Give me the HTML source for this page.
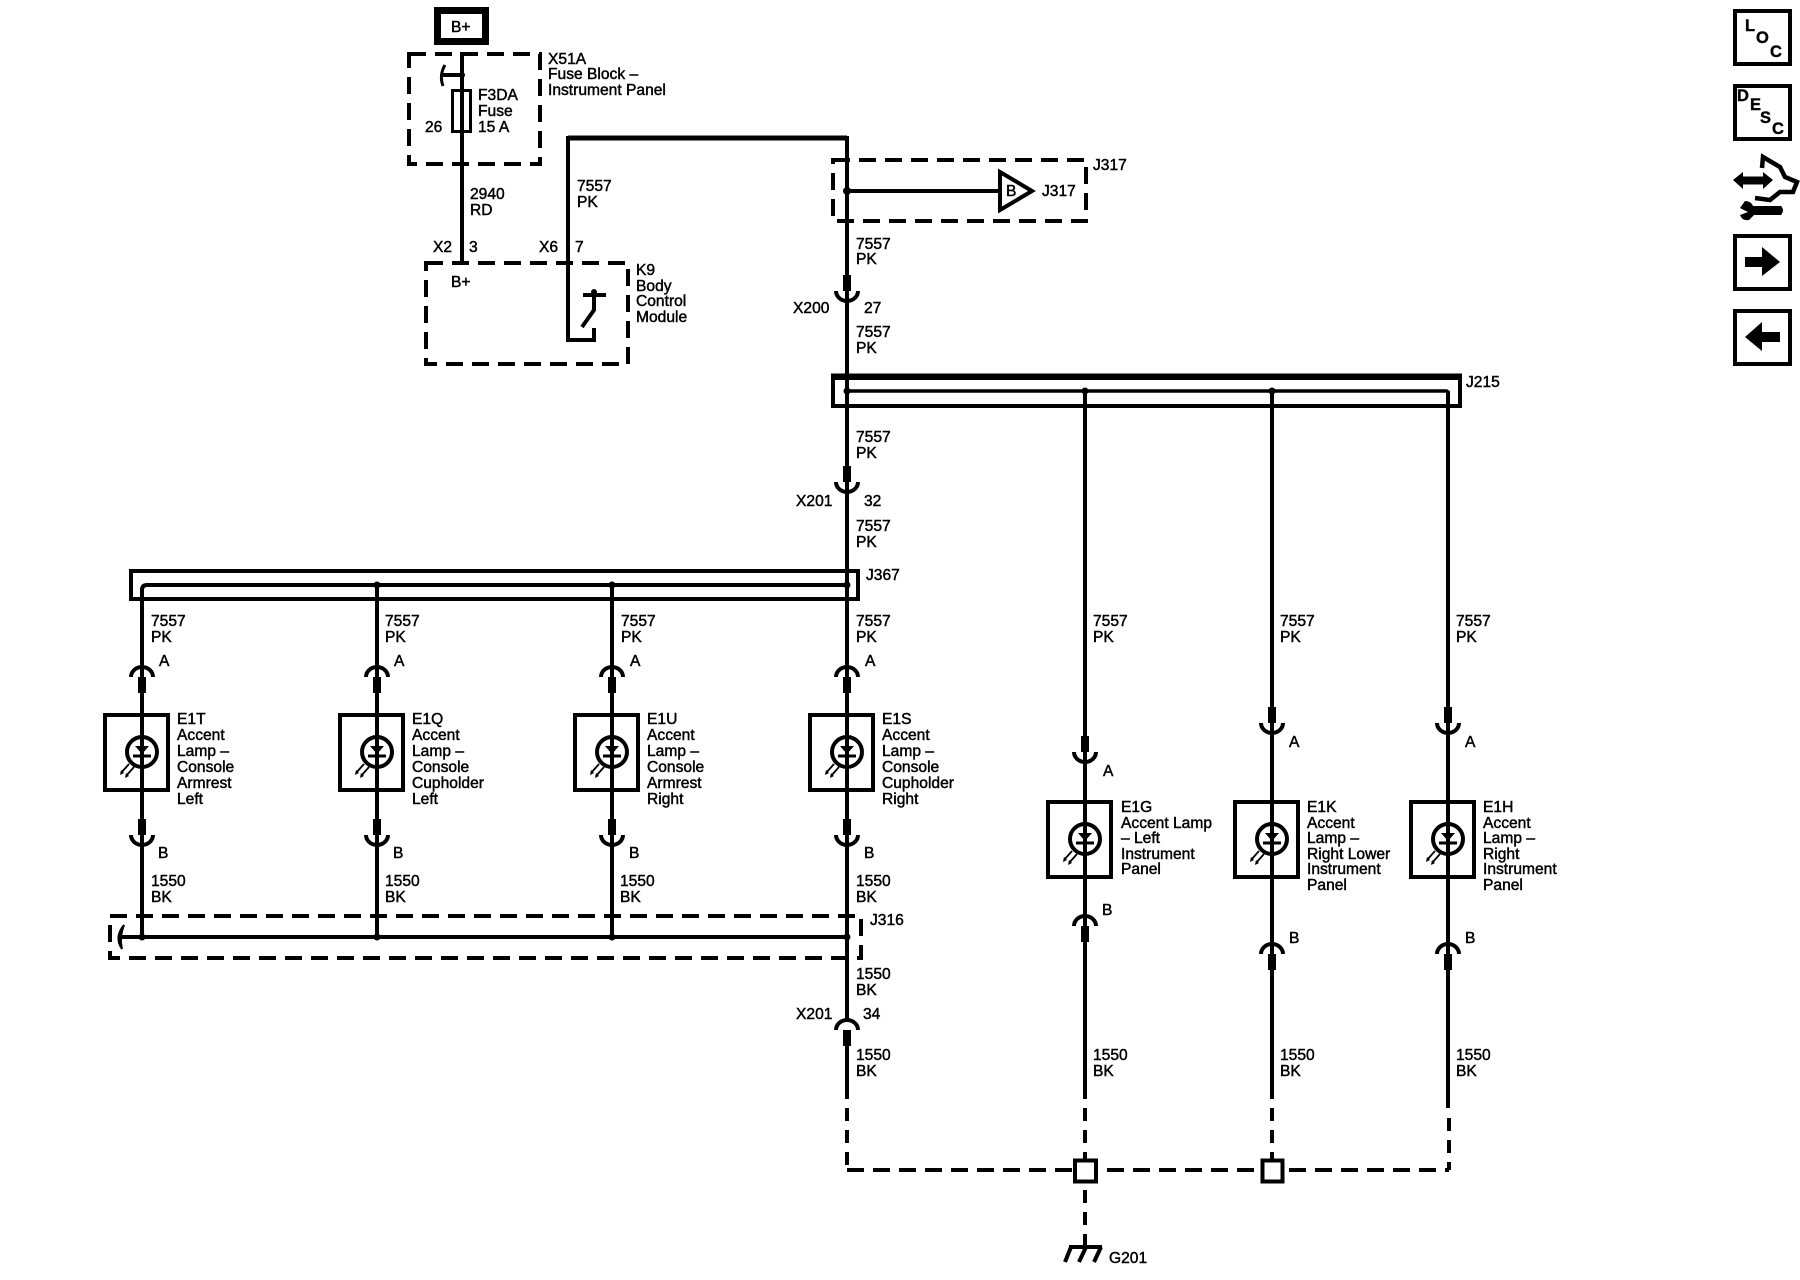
<!DOCTYPE html>
<html><head><meta charset="utf-8"><style>
html,body{margin:0;padding:0;background:#fff}
svg{display:block}
text{font-family:"Liberation Sans",sans-serif;font-size:15.6px;fill:#000;stroke:#000;stroke-width:.45px}
.w{fill:none;stroke:#000;stroke-width:4}
.d{fill:none;stroke:#000;stroke-width:4;stroke-dasharray:17 9}
.v{fill:none;stroke:#000;stroke-width:4;stroke-dasharray:13 9}
.b{font-weight:bold;font-size:16.5px;stroke-width:.4px}
</style></head><body>
<svg width="1800" height="1280" viewBox="0 0 1800 1280" xmlns="http://www.w3.org/2000/svg">
<defs>
<g id="cup"><rect x="-4" y="-16" width="8" height="16"/><path class="w" d="M-11 0A11 10 0 0 0 11 0"/></g>
<g id="cap"><rect x="-4" y="0" width="8" height="16"/><path class="w" d="M-11 0A11 10 0 0 1 11 0"/></g>
<g id="lamp">
<rect class="w" x="-37" y="-37" width="63" height="75"/>
<circle class="w" cx="0" cy="0" r="15"/>
<path d="M-7-6H7L0 2Z"/>
<path class="w" style="stroke-width:3" d="M-9 4H9"/>
<path class="w" style="stroke-width:1.800" d="M-13 12L-21 21M-8 15L-16 24"/>
<path d="M-22 23l1-5 3 3ZM-17 26l1-5 3 3Z"/>
</g>
</defs>

<!-- B+ and fuse block -->
<rect x="437.500" y="10.500" width="48" height="31" fill="none" stroke="#000" stroke-width="7"/>
<text x="451" y="32">B+</text>
<rect class="d" x="409" y="54" width="131" height="110"/>
<path class="w" d="M462 52V262"/>
<path class="w" d="M443 75H462"/>
<circle cx="462" cy="75" r="3"/>
<path class="w" style="stroke-width:3" d="M445 65Q439 75 443 86"/>
<rect x="452.500" y="90.500" width="18" height="41" fill="#fff" stroke="#000" stroke-width="3"/>
<path class="w" d="M462 90V131"/>
<text x="548" y="64">X51A</text>
<text x="548" y="79">Fuse Block –</text>
<text x="548" y="95">Instrument Panel</text>
<text x="478" y="100">F3DA</text>
<text x="478" y="116">Fuse</text>
<text x="478" y="132">15 A</text>
<text x="425" y="132">26</text>
<text x="470" y="199">2940</text>
<text x="470" y="215">RD</text>
<text x="433" y="252">X2</text>
<text x="469" y="252">3</text>
<text x="539" y="252">X6</text>
<text x="575" y="252">7</text>

<!-- K9 -->
<rect class="d" x="426" y="263" width="202" height="101"/>
<text x="451" y="287">B+</text>
<text x="636" y="275">K9</text>
<text x="636" y="291">Body</text>
<text x="636" y="306">Control</text>
<text x="636" y="322">Module</text>
<path class="w" style="stroke-width:5" d="M847 138H568"/>
<path class="w" d="M568 136V340H594V328"/>
<path class="w" d="M583 295H606M594 292V310L582 327"/>
<circle cx="594" cy="292" r="3"/>
<text x="577" y="191">7557</text>
<text x="577" y="207">PK</text>

<!-- main wire -->
<path class="w" d="M847 136V276M847 290V468M847 482V1020"/>
<rect class="d" x="833" y="160" width="253" height="61"/>
<circle cx="847" cy="191" r="4"/>
<path class="w" d="M847 191H998"/>
<path d="M1000 172L1032 191L1000 210Z" fill="#fff" stroke="#000" stroke-width="4"/>
<text x="1006" y="196">B</text>
<text x="1042" y="196">J317</text>
<text x="1093" y="170">J317</text>
<text x="856" y="249">7557</text>
<text x="856" y="264">PK</text>
<use href="#cup" x="847" y="291"/>
<text x="793" y="313">X200</text>
<text x="864" y="313">27</text>
<text x="856" y="337">7557</text>
<text x="856" y="353">PK</text>

<!-- J215 -->
<rect class="w" x="833" y="378" width="627" height="28" style="stroke-width:4"/>
<path class="w" d="M831 376H1462" style="stroke-width:5"/>
<path class="w" style="stroke-width:3.500" d="M847 391H1446Q1448 391 1448 393"/>
<circle cx="847" cy="391" r="3.500"/><circle cx="1085" cy="391" r="3.500"/><circle cx="1272" cy="391" r="3.500"/>
<text x="1466" y="387">J215</text>
<text x="856" y="442">7557</text>
<text x="856" y="458">PK</text>
<use href="#cup" x="847" y="482"/>
<text x="796" y="506">X201</text>
<text x="864" y="506">32</text>
<text x="856" y="531">7557</text>
<text x="856" y="547">PK</text>

<!-- J367 -->
<rect class="w" x="131" y="571" width="727" height="28"/>
<path class="w" d="M142 693V590Q142 585 147 585H847"/>
<path class="w" d="M377 585V677M612 585V677"/>
<circle cx="377" cy="585" r="3.500"/><circle cx="612" cy="585" r="3.500"/><circle cx="847" cy="585" r="3.500"/>
<text x="866" y="580">J367</text>

<!-- left columns -->
<use href="#cap" x="142" y="677"/><use href="#cap" x="377" y="677"/><use href="#cap" x="612" y="677"/><use href="#cap" x="847" y="677"/>
<use href="#lamp" x="142" y="752"/><use href="#lamp" x="377" y="752"/><use href="#lamp" x="612" y="752"/><use href="#lamp" x="847" y="752"/>
<path class="w" d="M142 692V821M377 692V821M612 692V821M847 692V821"/>
<path class="w" d="M142 835V937M377 835V937M612 835V937"/>
<use href="#cup" x="142" y="835"/><use href="#cup" x="377" y="835"/><use href="#cup" x="612" y="835"/><use href="#cup" x="847" y="835"/>

<text x="151" y="626">7557</text><text x="151" y="642">PK</text>
<text x="385" y="626">7557</text><text x="385" y="642">PK</text>
<text x="621" y="626">7557</text><text x="621" y="642">PK</text>
<text x="856" y="626">7557</text><text x="856" y="642">PK</text>
<text x="159" y="666">A</text><text x="394" y="666">A</text><text x="630" y="666">A</text><text x="865" y="666">A</text>
<text x="158" y="858">B</text><text x="393" y="858">B</text><text x="629" y="858">B</text><text x="864" y="858">B</text>
<text x="151" y="886">1550</text><text x="151" y="902">BK</text>
<text x="385" y="886">1550</text><text x="385" y="902">BK</text>
<text x="620" y="886">1550</text><text x="620" y="902">BK</text>
<text x="856" y="886">1550</text><text x="856" y="902">BK</text>

<text x="177" y="724">E1T</text><text x="177" y="740">Accent</text><text x="177" y="756">Lamp –</text><text x="177" y="772">Console</text><text x="177" y="788">Armrest</text><text x="177" y="804">Left</text>
<text x="412" y="724">E1Q</text><text x="412" y="740">Accent</text><text x="412" y="756">Lamp –</text><text x="412" y="772">Console</text><text x="412" y="788">Cupholder</text><text x="412" y="804">Left</text>
<text x="647" y="724">E1U</text><text x="647" y="740">Accent</text><text x="647" y="756">Lamp –</text><text x="647" y="772">Console</text><text x="647" y="788">Armrest</text><text x="647" y="804">Right</text>
<text x="882" y="724">E1S</text><text x="882" y="740">Accent</text><text x="882" y="756">Lamp –</text><text x="882" y="772">Console</text><text x="882" y="788">Cupholder</text><text x="882" y="804">Right</text>

<!-- J316 -->
<rect class="d" x="110" y="916" width="751" height="42"/>
<path class="w" d="M122 937H847"/>
<path d="M124 925Q114 937 122 949Q119 937 124 925Z" stroke="#000" stroke-width="2"/>
<circle cx="142" cy="937" r="3.500"/><circle cx="377" cy="937" r="3.500"/><circle cx="612" cy="937" r="3.500"/><circle cx="847" cy="937" r="3.500"/>
<text x="870" y="925">J316</text>
<text x="856" y="979">1550</text><text x="856" y="995">BK</text>
<text x="796" y="1019">X201</text><text x="863" y="1019">34</text>
<use href="#cap" x="847" y="1030"/>
<path class="w" d="M847 1044V1099"/>
<text x="856" y="1060">1550</text><text x="856" y="1076">BK</text>

<!-- right columns -->
<path class="w" d="M1085 391V738M1085 752V926M1085 941V1099"/>
<path class="w" d="M1272 391V709M1272 723V954M1272 969V1099"/>
<path class="w" d="M1448 391V709M1448 723V954M1448 969V1108"/>
<use href="#cup" x="1085" y="752"/><use href="#cup" x="1272" y="723"/><use href="#cup" x="1448" y="723"/>
<use href="#lamp" x="1085" y="839"/><use href="#lamp" x="1272" y="839"/><use href="#lamp" x="1448" y="839"/>
<use href="#cap" x="1085" y="926"/><use href="#cap" x="1272" y="954"/><use href="#cap" x="1448" y="954"/>
<text x="1093" y="626">7557</text><text x="1093" y="642">PK</text>
<text x="1280" y="626">7557</text><text x="1280" y="642">PK</text>
<text x="1456" y="626">7557</text><text x="1456" y="642">PK</text>
<text x="1103" y="776">A</text><text x="1289" y="747">A</text><text x="1465" y="747">A</text>
<text x="1102" y="915">B</text><text x="1289" y="943">B</text><text x="1465" y="943">B</text>
<text x="1121" y="812">E1G</text><text x="1121" y="828">Accent Lamp</text><text x="1121" y="843">– Left</text><text x="1121" y="859">Instrument</text><text x="1121" y="874">Panel</text>
<text x="1307" y="812">E1K</text><text x="1307" y="828">Accent</text><text x="1307" y="843">Lamp –</text><text x="1307" y="859">Right Lower</text><text x="1307" y="874">Instrument</text><text x="1307" y="890">Panel</text>
<text x="1483" y="812">E1H</text><text x="1483" y="828">Accent</text><text x="1483" y="843">Lamp –</text><text x="1483" y="859">Right</text><text x="1483" y="874">Instrument</text><text x="1483" y="890">Panel</text>
<text x="1093" y="1060">1550</text><text x="1093" y="1076">BK</text>
<text x="1280" y="1060">1550</text><text x="1280" y="1076">BK</text>
<text x="1456" y="1060">1550</text><text x="1456" y="1076">BK</text>

<!-- ground bus -->
<path class="v" d="M847 1108V1170M1085 1108V1160M1272 1108V1160M1449 1118V1170"/>
<path class="d" d="M847 1170H1449"/>
<rect x="1075" y="1160.500" width="21" height="21" fill="#fff" stroke="#000" stroke-width="4"/>
<rect x="1262.500" y="1160.500" width="20" height="21" fill="#fff" stroke="#000" stroke-width="4"/>
<path class="v" d="M1085 1190V1247"/>
<path class="w" d="M1069 1247H1102M1071 1247L1065 1262M1086 1247L1079 1262M1101 1247L1094 1262"/>
<text x="1109" y="1263">G201</text>

<!-- sidebar -->
<rect class="w" x="1735" y="11" width="55" height="53"/>
<text class="b" x="1745" y="31">L</text><text class="b" x="1756" y="43">O</text><text class="b" x="1770" y="57">C</text>
<rect class="w" x="1735" y="86" width="55" height="53"/>
<text class="b" x="1737" y="101">D</text><text class="b" x="1750" y="110">E</text><text class="b" x="1760" y="123">S</text><text class="b" x="1772" y="134">C</text>
<path d="M1733 180L1743 172V176.500H1763V172L1773 180L1763 189V184.500H1743V189Z"/>
<path class="w" style="stroke-width:4.500" d="M1762 168L1763 157L1780 167L1785 177L1797 182L1793 192H1780L1770 200L1755 198"/>
<path d="M1753 206H1781Q1785 210 1781 215H1754L1749 220Q1742 221 1740 215L1748 212L1740 208L1745 201Q1751 201 1753 206Z"/>
<rect class="w" x="1735" y="236" width="55" height="53"/>
<path d="M1745 257H1762V247L1780 262L1762 276V267H1745Z"/>
<rect class="w" x="1735" y="311" width="55" height="53"/>
<path d="M1780 332H1762V322L1745 337L1762 351V342H1780Z"/>
</svg>
</body></html>
